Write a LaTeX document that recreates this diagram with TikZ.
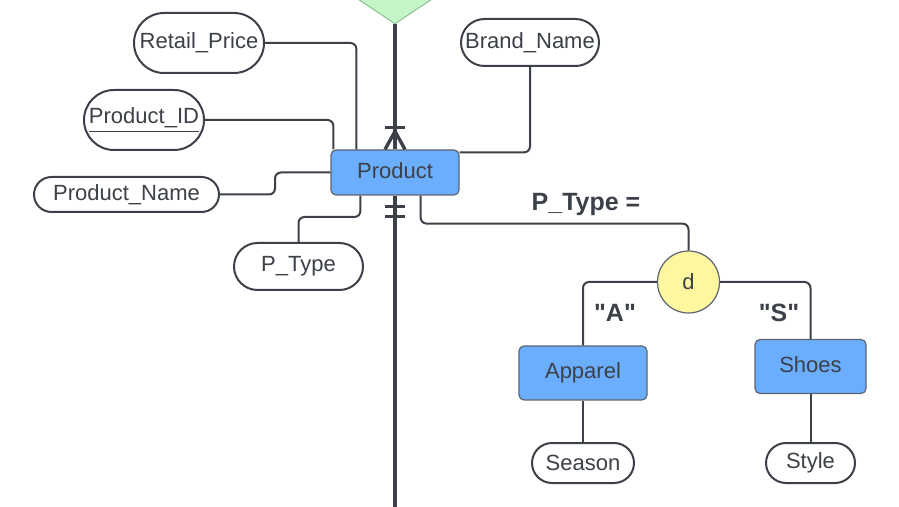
\documentclass[tikz,border=0pt]{standalone}
\usepackage{fontspec}
\setmainfont{Liberation Sans}
\usetikzlibrary{shapes.geometric,shapes.misc,calc}

\definecolor{ink}{RGB}{60,64,72}
\definecolor{entfill}{RGB}{108,174,254}
\definecolor{entline}{RGB}{92,100,114}
\definecolor{relfill}{RGB}{196,246,200}
\definecolor{relline}{RGB}{140,190,146}
\definecolor{disjfill}{RGB}{255,246,160}

\tikzset{
  ent/.style={draw=entline,fill=entfill,line width=0.6pt,rounded corners=2.5pt,
    inner sep=0pt,text=ink,font=\fontsize{11}{13}\selectfont},
  attr/.style={draw=ink,fill=white,line width=1pt,rounded rectangle,inner sep=0pt,
    text=ink,font=\fontsize{11}{13}\selectfont},
  disj/.style={draw=entline,fill=disjfill,line width=0.6pt,circle,inner sep=0pt,
    minimum size=31pt,text=ink,font=\fontsize{11}{13}\selectfont},
  rel/.style={draw=relline,fill=relfill,line width=0.5pt,diamond,inner sep=0pt,
    minimum width=90pt,minimum height=60pt},
  lbl/.style={text=ink,font=\fontsize{12.5}{14}\selectfont\bfseries},
  conn/.style={draw=ink,line width=1pt,rounded corners=3pt},
  idline/.style={draw=ink,line width=1.7pt},
}

\begin{document}
\begin{tikzpicture}[x=0.5pt,y=0.5pt,yscale=-1,xscale=1]
\useasboundingbox (0,0) rectangle (899,507);

% Relationship (cut at the top)
\node [rel] (sells) at (395,-36) {};

% Entities
\node [ent,minimum width=64pt,minimum height=22.5pt] (prod) at (395,172.5) {\raisebox{1.5pt}{Product}};
\node [ent,minimum width=64pt,minimum height=27pt] (app) at (583,373) {Apparel};
\node [ent,minimum width=55.5pt,minimum height=27pt] (shoe) at (810.5,366.5) {\raisebox{1.5pt}{Shoes}};

% Attributes
\node [attr,minimum width=65pt,minimum height=30pt] (retail) at (199,43) {Retail\_Price};
\node [attr,minimum width=60pt,minimum height=30pt] (pid) at (144,120) {\underline{Product\_ID}};
\node [attr,minimum width=92.5pt,minimum height=17.5pt] (pname) at (126.5,194.5) {Product\_Name};
\node [attr,minimum width=64.5pt,minimum height=23.5pt] (ptype) at (298.5,266.5) {P\_Type};
\node [attr,minimum width=69pt,minimum height=23.5pt] (brand) at (530,42.5) {Brand\_Name};
\node [attr,minimum width=51pt,minimum height=20pt] (season) at (583,463) {Season};
\node [attr,minimum width=44.5pt,minimum height=20pt] (style) at (810.5,463) {Style};

% Disjoint specialisation
\node [disj] (dsj) at (688.5,282) {d};

% Labels
\node [lbl] (ptlbl) at (586,204) {P\_Type =};
\node [lbl] (albl) at (615,313) {\textquotedbl A\textquotedbl};
\node [lbl] (slbl) at (779,313) {\textquotedbl S\textquotedbl};

% Attribute links
\draw [conn] (retail.east) -| ($(prod.north west)+(26,0)$);
\draw [conn] (pid.east) -| ($(prod.north west)+(3,0)$);
\draw [conn] (pname.east) -- ++(55,0) |- (prod.west);
\draw [conn] (ptype.north) -- ++(0,-25) -| ($(prod.south west)+(30,0)$);
\draw [conn] (brand.south) |- ($(prod.north east)+(0,3)$);
\draw [conn] (app.south) -- (season.north);
\draw [conn] (shoe.south) -- (style.north);

% Specialisation links
\draw [conn] ($(prod.south east)+(-39,0)$) -- ++(0,28) -| (dsj.north);
\draw [conn] (dsj.west) -| (app.north);
\draw [conn] (dsj.east) -| (shoe.north);

% Relationship line, crow's foot above, two bars below
\coordinate (lineend) at (395,520);
\draw [idline] (sells.south) -- (prod.north);
\draw [idline] ($(prod.north)+(-10,-22)$) -- ($(prod.north)+(10,-22)$);
\draw [idline] ($(prod.north)+(-10,0)$) -- ($(prod.north)+(0,-18)$) -- ($(prod.north)+(10,0)$);
\draw [idline] (prod.south) -- (lineend);
\draw [idline] ($(prod.south)+(-10,11)$) -- ($(prod.south)+(10,11)$);
\draw [idline] ($(prod.south)+(-10,21)$) -- ($(prod.south)+(10,21)$);

\end{tikzpicture}
\end{document}
